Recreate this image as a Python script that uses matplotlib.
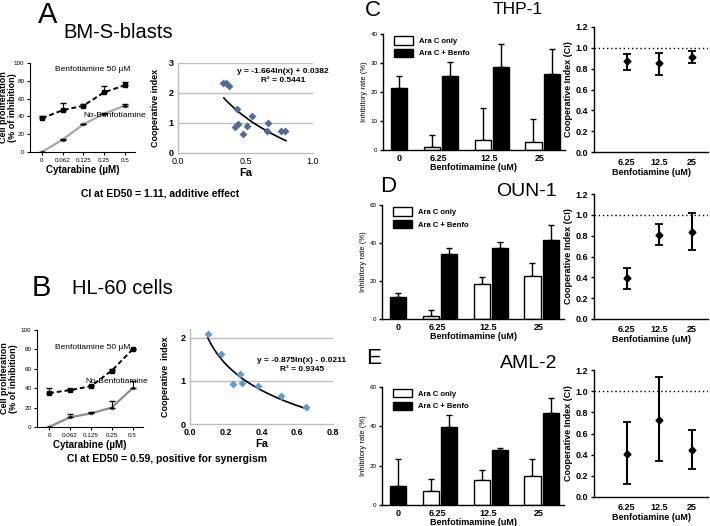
import numpy as np
import matplotlib
matplotlib.use('Agg')
import matplotlib.pyplot as plt
from matplotlib.patches import Patch

plt.rcParams['font.family'] = ['Liberation Sans', 'DejaVu Sans']
plt.rcParams['axes.unicode_minus'] = False

W, H = 710, 526

# ---- panels A / B : proliferation curves ----
cyt_labels = ['0', '0.062', '0.125', '0.25', '0.5']
a_benfo     = [38, 47, 52, 67, 75]
a_benfo_err = [2, 8, 2, 7, 4]
a_none      = [0, 14, 31, 43, 52]
a_none_err  = [0, 1, 1, 1, 2]
b_benfo     = [35, 38, 42, 58, 80]
b_benfo_err = [5, 1.5, 1, 1.5, 0]
b_none      = [0, 10, 14, 20, 40]
b_none_err  = [0, 3, 1.5, 7, 7]

# ---- panels A / B : CI vs Fa scatter ----
a_fa = [0.333, 0.353, 0.375, 0.44, 0.425, 0.444, 0.48, 0.51, 0.548, 0.669, 0.662, 0.76, 0.795]
a_ci = [2.34, 2.32, 2.24, 1.46, 0.88, 0.96, 0.64, 0.90, 1.25, 0.99, 0.75, 0.72, 0.74]
a_fit = (-1.664, 0.0382, 0.34, 0.80)
b_fa = [0.099, 0.171, 0.238, 0.279, 0.290, 0.381, 0.51, 0.651]
b_ci = [2.08, 1.62, 0.915, 1.16, 0.95, 0.87, 0.65, 0.39]
b_fit = (-0.875, -0.0211, 0.10, 0.66)

# ---- panels C / D / E : bars ----
benfo_labels = ['0', '6.25', '12.5', '25']
c_only  = [0, 1.0, 3.5, 2.9];     c_only_err  = [0, 4.1, 11.1, 7.7]
c_combo = [21.3, 25.6, 28.6, 26.3]; c_combo_err = [4.3, 4.6, 7.9, 8.5]
d_only  = [0, 1.8, 18.4, 22.5];   d_only_err  = [0, 2.9, 3.7, 7.0]
d_combo = [11.4, 34.0, 37.2, 41.4]; d_combo_err = [2.5, 3.5, 3.2, 8.1]
e_only  = [0, 7.1, 12.9, 14.5];   e_only_err  = [0, 6.0, 5.1, 8.8]
e_combo = [9.7, 39.8, 27.9, 46.6]; e_combo_err = [13.6, 5.9, 1.0, 7.8]

# ---- panels C / D / E : cooperative index ----
ci_labels = ['6.25', '12.5', '25']
c_ci = [0.87, 0.85, 0.91];  c_ci_lo = [0.79, 0.74, 0.85]; c_ci_hi = [0.94, 0.95, 0.965]
d_ci = [0.39, 0.81, 0.84];  d_ci_lo = [0.29, 0.71, 0.66]; d_ci_hi = [0.49, 0.91, 1.02]
e_ci = [0.41, 0.73, 0.445]; e_ci_lo = [0.12, 0.34, 0.26]; e_ci_hi = [0.71, 1.13, 0.63]


def px_axes(fig, left, top, right, bottom):
    return fig.add_axes([left / W, 1 - bottom / H, (right - left) / W, (bottom - top) / H])


def prism(ax, lw=0.9):
    ax.spines[['top', 'right']].set_visible(False)
    for s in ['left', 'bottom']:
        ax.spines[s].set_linewidth(lw)
    ax.tick_params(width=lw, length=2.5, pad=1.5)


def line_panel(ax, benfo, benfo_err, none, none_err, none_col, txt_pos, label_x):
    x = np.arange(len(cyt_labels))
    ax.plot(x, benfo, ls=(0, (2.5, 1.5)), color='black', lw=1.4,
            marker='s', ms=2.2, zorder=3)
    ax.errorbar(x, benfo, yerr=[np.zeros(len(x)), benfo_err], fmt='none',
                ecolor='black', elinewidth=0.8, capsize=2, zorder=3)
    ax.plot(x, none, color=none_col, lw=1.6, marker='o', ms=2,
            mfc='white', mec='black', mew=0.5, zorder=2)
    ax.errorbar(x, none, yerr=[np.zeros(len(x)), none_err], fmt='none',
                ecolor='black', elinewidth=0.8, capsize=2, zorder=3)
    ax.set_xlim(-0.58, 4.5)
    ax.set_ylim(0, 100)
    ax.set_yticks(range(0, 101, 20))
    ax.set_xticks(x)
    ax.set_xticklabels(cyt_labels)
    ax.tick_params(labelsize=4.5)
    prism(ax, 0.8)
    ax.set_ylabel('Cell proliferation\n(% of inhibition)', fontsize=6.5,
                  weight='bold', linespacing=1.05)
    ax.yaxis.set_label_coords(label_x, 0.5)
    ax.set_xlabel('Cytarabine (\u00b5M)', fontsize=7, weight='bold', labelpad=2)
    ax.text(txt_pos[0][0], txt_pos[0][1], 'Benfotiamine 50 \u00b5M', fontsize=6,
            ha='center', va='center')
    ax.text(txt_pos[1][0], txt_pos[1][1], 'No-Benfotiamine', fontsize=6,
            ha='center', va='center')


def fa_panel(ax, fa, ci, fit, col, xmax, ymax, xstep, eq_xy, bold_ticks):
    ax.scatter(fa, ci, marker='D', s=16, color=col, zorder=3, linewidths=0)
    xs = np.linspace(fit[2], fit[3], 60)
    ax.plot(xs, fit[0] * np.log(xs) + fit[1], color='black', lw=1.2, zorder=2)
    ax.set_xlim(0, xmax)
    ax.set_ylim(0, ymax)
    ax.set_xticks(np.arange(0, xmax + 1e-9, xstep))
    ax.set_xticklabels([f'{v:.1f}' for v in np.arange(0, xmax + 1e-9, xstep)])
    ax.set_yticks(range(0, int(ymax) + 1))
    for yv in range(1, int(ymax) + 1):
        ax.axhline(yv, color='#bdbdbd', lw=1.0, zorder=1)
    ax.spines[['top', 'right']].set_visible(False)
    for s in ['left', 'bottom']:
        ax.spines[s].set_color('#bdbdbd')
        ax.spines[s].set_linewidth(1.0)
    ax.tick_params(length=0, labelsize=6.5, pad=3)
    if bold_ticks:
        for t in ax.get_xticklabels() + ax.get_yticklabels():
            t.set_fontweight('bold')
    else:
        for t in ax.get_yticklabels():
            t.set_fontweight('bold')
    ax.set_xlabel('Fa', fontsize=8, weight='bold', labelpad=1)
    sign = '+' if fit[1] >= 0 else '-'
    ax.text(eq_xy[0], eq_xy[1], f'y = {fit[0]:.3f}ln(x) {sign} {abs(fit[1]):.4g}',
            fontsize=6, weight='bold', ha='center', va='center')


def bar_panel(ax, only, only_err, combo, combo_err, ymax, ystep):
    g = np.arange(len(benfo_labels))
    wd = 0.32
    keep = [i for i in g if only[i] > 0]
    ax.bar(g[keep] - 0.18, np.array(only)[keep], wd, color='white',
           edgecolor='black', lw=1.0, label='Ara C only', zorder=2)
    ax.errorbar(g[keep] - 0.18, np.array(only)[keep],
                yerr=[np.zeros(len(keep)), np.array(only_err)[keep]],
                fmt='none', ecolor='black', elinewidth=1.0, capsize=2.5, zorder=1)
    ax.bar(g + 0.18, combo, wd, color='black', edgecolor='black', lw=1.0,
           label='Ara C + Benfo', zorder=2)
    ax.errorbar(g + 0.18, combo, yerr=[np.zeros(len(g)), combo_err], fmt='none',
                ecolor='black', elinewidth=1.0, capsize=2.5, zorder=1)
    ax.set_xlim(-0.14, 3.44)
    ax.set_ylim(0, ymax)
    ax.set_yticks(range(0, ymax + 1, ystep))
    ax.set_xticks([0.18, 0.95, 1.95, 2.95])
    ax.set_xticklabels(benfo_labels)
    prism(ax, 1.0)
    ax.tick_params(axis='x', length=0, labelsize=6.5, pad=3)
    ax.tick_params(axis='y', labelsize=4.5)
    for t in ax.get_xticklabels():
        t.set_fontweight('bold')
    ax.set_ylabel('Inhibitory rate (%)', fontsize=5.5, labelpad=2)
    ax.set_xlabel('Benfotimamine (uM)', fontsize=6.5, weight='bold', labelpad=0)
    handles = [Patch(facecolor='white', edgecolor='black', label='Ara C only'),
               Patch(facecolor='black', edgecolor='black', label='Ara C + Benfo')]
    leg = ax.legend(handles=handles, loc='upper left', bbox_to_anchor=(0.02, 1.04),
                    frameon=False, fontsize=5.5, handlelength=2.6, handleheight=1.3,
                    labelspacing=0.5)
    for t in leg.get_texts():
        t.set_fontweight('bold')


def ci_panel(ax, ci, lo, hi):
    x = np.arange(1, len(ci_labels) + 1)
    ci = np.array(ci)
    ax.errorbar(x, ci, yerr=[ci - np.array(lo), np.array(hi) - ci], fmt='D',
                color='black', ms=3.5, elinewidth=1.5, capsize=3, capthick=1.3)
    ax.axhline(1.0, color='black', ls=(0, (1, 2)), lw=1.0)
    ax.set_xlim(0, 3.5)
    ax.set_ylim(0, 1.2)
    ax.set_yticks(np.arange(0, 1.21, 0.2))
    ax.set_yticklabels([f'{v:.1f}' for v in np.arange(0, 1.21, 0.2)])
    ax.set_xticks(x)
    ax.set_xticklabels(ci_labels)
    prism(ax, 1.0)
    ax.tick_params(axis='x', length=0, pad=4)
    ax.tick_params(labelsize=6.5)
    for t in ax.get_xticklabels() + ax.get_yticklabels():
        t.set_fontweight('bold')
    ax.set_ylabel('Cooperative Index (CI)', fontsize=6.5, weight='bold', labelpad=2)
    ax.set_xlabel('Benfotiamine (uM)', fontsize=6.5, weight='bold', labelpad=1)


fig = plt.figure(figsize=(W / 100, H / 100), dpi=100)

# A
ax = px_axes(fig, 30, 63, 135, 152)
line_panel(ax, a_benfo, a_benfo_err, a_none, a_none_err, '#a8a8a8',
           [(2.45, 93), (3.5, 41)], -0.12)
ax = px_axes(fig, 178, 63, 313, 153)
fa_panel(ax, a_fa, a_ci, a_fit, '#4a6e9b', 1.0, 3, 0.5, (0.78, 2.72), False)
ax.text(0.78, 2.43, 'R\u00b2 = 0.5441', fontsize=6, weight='bold', ha='center', va='center')
ax.set_ylabel('Cooperative index', fontsize=6.5, weight='bold', labelpad=6)
fig.text(48 / W, 1 - 15 / H, 'A', fontsize=21, ha='center', va='center')
fig.text(118 / W, 1 - 33 / H, 'BM-S-blasts', fontsize=14.5, ha='center', va='center')
fig.text(160 / W, 1 - 193 / H, 'CI at ED50 = 1.11, additive effect', fontsize=7.5,
         weight='bold', ha='center', va='center')

# B
ax = px_axes(fig, 37, 330, 143, 427)
line_panel(ax, b_benfo, b_benfo_err, b_none, b_none_err, '#8c8c8c',
           [(2.1, 82), (3.25, 47)], -0.18)
ax = px_axes(fig, 190, 329, 333, 424)
fa_panel(ax, b_fa, b_ci, b_fit, '#5b9bd5', 0.8, 2.2, 0.2, (0.625, 1.47), True)
ax.text(0.625, 1.26, 'R\u00b2 = 0.9345', fontsize=6, weight='bold', ha='center', va='center')
ax.set_ylabel('Cooperative  index', fontsize=6.5, weight='bold', labelpad=8)
fig.text(41 / W, 1 - 288 / H, 'B', fontsize=21, ha='center', va='center')
fig.text(122 / W, 1 - 288 / H, 'HL-60 cells', fontsize=14.5, ha='center', va='center')
fig.text(167 / W, 1 - 459 / H, 'CI at ED50 = 0.59, positive for synergism', fontsize=7.5,
         weight='bold', ha='center', va='center')

# C
ax = px_axes(fig, 383, 34, 565, 150)
bar_panel(ax, c_only, c_only_err, c_combo, c_combo_err, 40, 10)
ax = px_axes(fig, 594, 27, 708, 152)
ci_panel(ax, c_ci, c_ci_lo, c_ci_hi)
fig.text(373 / W, 1 - 11 / H, 'C', fontsize=16, ha='center', va='center')
fig.text(518 / W, 1 - 10 / H, 'THP-1', fontsize=12.5, ha='center', va='center')

# D
ax = px_axes(fig, 382, 205, 564, 319)
bar_panel(ax, d_only, d_only_err, d_combo, d_combo_err, 60, 20)
ax = px_axes(fig, 594, 194, 708, 319)
ci_panel(ax, d_ci, d_ci_lo, d_ci_hi)
fig.text(388 / W, 1 - 187 / H, 'D', fontsize=16, ha='center', va='center')
fig.text(526 / W, 1 - 192 / H, 'OUN-1', fontsize=14, ha='center', va='center')

# E
ax = px_axes(fig, 382, 387, 564, 505)
bar_panel(ax, e_only, e_only_err, e_combo, e_combo_err, 60, 20)
ax = px_axes(fig, 594, 370, 708, 497)
ci_panel(ax, e_ci, e_ci_lo, e_ci_hi)
fig.text(374 / W, 1 - 358 / H, 'E', fontsize=16, ha='center', va='center')
fig.text(529 / W, 1 - 363 / H, 'AML-2', fontsize=14, ha='center', va='center')

fig.savefig('out.png', dpi=100)
